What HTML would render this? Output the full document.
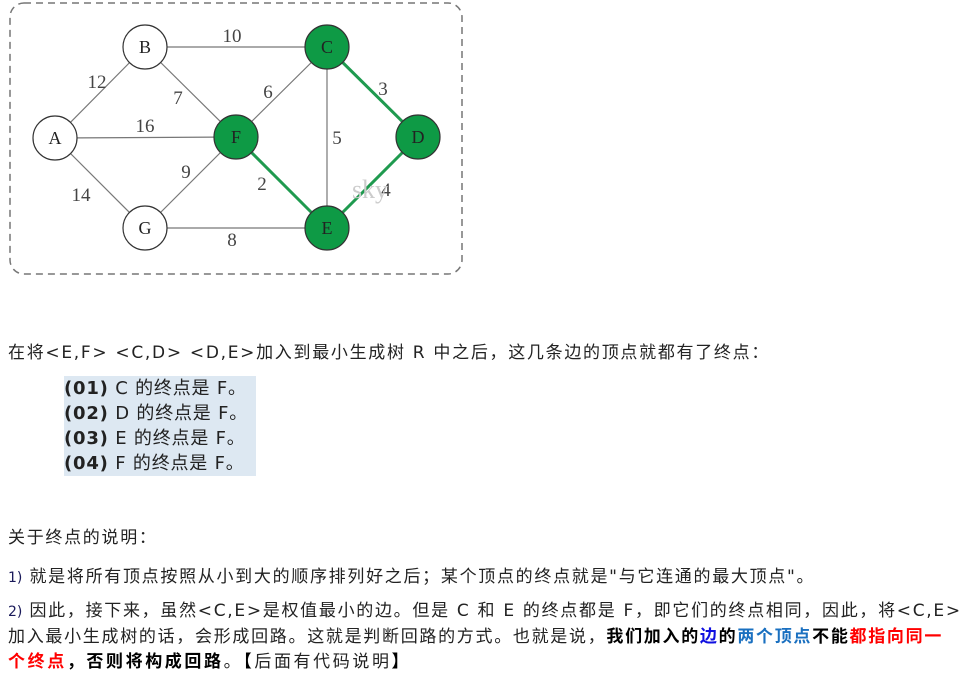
<!DOCTYPE html>
<html><head><meta charset="utf-8"><style>
body{margin:0;width:965px;height:677px;background:#fff;position:relative;overflow:hidden;font-family:"DejaVu Sans","Noto Sans CJK SC",sans-serif;color:#222;}
.t{position:absolute;white-space:nowrap;font-size:17px;line-height:20px;letter-spacing:1.7px;}
.n{color:#1a1a5a;font-size:14px;letter-spacing:0;}
.li{position:absolute;left:64px;background:#dde8f2;font-size:18px;line-height:25px;white-space:nowrap;letter-spacing:0.8px;width:192px;}
b{font-weight:bold;}
</style></head><body>
<svg width="470" height="280" style="position:absolute;left:0;top:0" font-family="Liberation Serif, serif">
<rect x="10" y="3" width="452" height="271" rx="14" fill="none" stroke="#777" stroke-width="1.5" stroke-dasharray="7,5"/>
<g stroke="#777" stroke-width="1.2">
<line x1="55" y1="138" x2="145" y2="47"/><line x1="55" y1="138" x2="236" y2="137"/><line x1="55" y1="138" x2="145" y2="228"/>
<line x1="145" y1="47" x2="327" y2="47"/><line x1="145" y1="47" x2="236" y2="137"/>
<line x1="145" y1="228" x2="236" y2="137"/><line x1="145" y1="228" x2="327" y2="228"/>
<line x1="236" y1="137" x2="327" y2="47"/><line x1="327" y1="47" x2="327" y2="228"/>
</g>
<g stroke="#1f9a4f" stroke-width="3">
<line x1="327" y1="47" x2="418" y2="137"/><line x1="418" y1="137" x2="327" y2="228"/><line x1="236" y1="137" x2="327" y2="228"/>
</g>
<g font-size="19" fill="#444" text-anchor="middle">
<text x="97" y="88">12</text><text x="178" y="104">7</text><text x="145" y="132">16</text><text x="232" y="42">10</text>
<text x="268" y="98">6</text><text x="383" y="95">3</text><text x="337" y="144">5</text><text x="186" y="178">9</text>
<text x="81" y="201">14</text><text x="262" y="190">2</text><text x="232" y="246">8</text><text x="386" y="196">4</text>
</g>
<text x="370" y="198" font-size="26" fill="#ccc" text-anchor="middle">sky</text>
<g stroke="#333" stroke-width="1.2">
<circle cx="55" cy="138" r="22" fill="#fff"/><circle cx="145" cy="47" r="22" fill="#fff"/><circle cx="145" cy="228" r="22" fill="#fff"/>
<circle cx="327" cy="47" r="22" fill="#0e9a45"/><circle cx="236" cy="137" r="22" fill="#0e9a45"/><circle cx="418" cy="137" r="22" fill="#0e9a45"/><circle cx="327" cy="228" r="22" fill="#0e9a45"/>
</g>
<g font-size="18" fill="#222" text-anchor="middle">
<text x="55" y="144">A</text><text x="145" y="53">B</text><text x="145" y="234">G</text>
<text x="327" y="53">C</text><text x="236" y="143">F</text><text x="418" y="143">D</text><text x="327" y="234">E</text>
</g>
</svg>
<div class="t" style="left:8px;top:343px">在将&lt;E,F&gt; &lt;C,D&gt; &lt;D,E&gt;加入到最小生成树 R 中之后，这几条边的顶点就都有了终点：</div>
<div class="li" style="top:376px"><b>(01)</b> C 的终点是 F。</div>
<div class="li" style="top:401px"><b>(02)</b> D 的终点是 F。</div>
<div class="li" style="top:426px"><b>(03)</b> E 的终点是 F。</div>
<div class="li" style="top:451px"><b>(04)</b> F 的终点是 F。</div>
<div class="t" style="left:8px;top:528px">关于终点的说明：</div>
<div class="t" style="left:8px;top:567px"><span class="n">1)</span> 就是将所有顶点按照从小到大的顺序排列好之后；某个顶点的终点就是"与它连通的最大顶点"。</div>
<div class="t" style="left:8px;top:601px"><span class="n">2)</span> 因此，接下来，虽然&lt;C,E&gt;是权值最小的边。但是 C 和 E 的终点都是 F，即它们的终点相同，因此，将&lt;C,E&gt;</div>
<div class="t" style="left:8px;top:627px">加入最小生成树的话，会形成回路。这就是判断回路的方式。也就是说，<b style="color:#000">我们加入的<span style="color:#1010e0">边</span>的<span style="color:#1a70c0">两个顶点</span>不能<span style="color:#f00">都指向同一</span></b></div>
<div class="t" style="left:8px;top:652px;letter-spacing:2.6px"><b style="color:#f00">个终点</b><b style="color:#000">，否则将构成回路</b>。<b style="color:#000">【</b>后面有代码说明<b style="color:#000">】</b></div>
</body></html>
